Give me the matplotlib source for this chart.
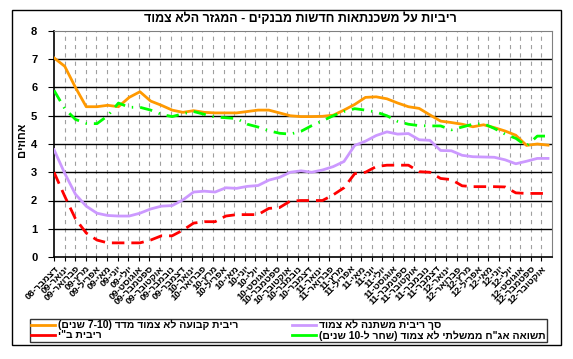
import re
import matplotlib
matplotlib.use("Agg")
import matplotlib.pyplot as plt
from matplotlib.patches import Rectangle
import numpy as np

plt.rcParams['font.family'] = ['Liberation Sans', 'DejaVu Sans']
plt.rcParams['font.weight'] = 'bold'
plt.rcParams['lines.scale_dashes'] = False


def vis(s):
    # matplotlib has no bidi support: put Hebrew into visual order
    r = s[::-1]
    r = re.sub(r'[0-9]+(?:[-.][0-9]+)*', lambda m: m.group(0)[::-1], r)
    return r.translate(str.maketrans('()', ')('))


month_names = ['ינואר', 'פברואר', 'מרץ', 'אפריל', 'מאי', 'יוני', 'יולי',
               'אוגוסט', 'ספטמבר', 'אוקטובר', 'נובמבר', 'דצמבר']
# Dec-08 .. Oct-12
labels = [f"{month_names[(11 + k) % 12]}-{8 + (11 + k) // 12:02d}" for k in range(47)]

fixed_rate = [7.05, 6.75, 6.0, 5.32, 5.32, 5.37, 5.32, 5.65, 5.85, 5.52, 5.37, 5.2,
              5.12, 5.18, 5.12, 5.1, 5.1, 5.1, 5.15, 5.2, 5.2, 5.1, 5.0, 4.97,
              4.97, 4.98, 5.02, 5.2, 5.4, 5.65, 5.67, 5.6, 5.45, 5.32, 5.26, 5.03,
              4.81, 4.76, 4.7, 4.61, 4.68, 4.58, 4.46, 4.31, 3.95, 4.0, 3.96]
variable_rate = [3.8, 2.96, 2.22, 1.8, 1.55, 1.47, 1.45, 1.45, 1.55, 1.7, 1.8, 1.82,
                 2.02, 2.3, 2.33, 2.3, 2.45, 2.43, 2.5, 2.53, 2.72, 2.82, 3.0, 3.05,
                 3.0, 3.08, 3.2, 3.38, 3.95, 4.1, 4.3, 4.43, 4.35, 4.37, 4.15, 4.13,
                 3.77, 3.76, 3.6, 3.55, 3.54, 3.53, 3.44, 3.3, 3.39, 3.49, 3.49]
boi_rate = [3.0, 2.15, 1.35, 0.85, 0.6, 0.5, 0.5, 0.5, 0.5, 0.6, 0.75, 0.75,
            0.95, 1.2, 1.25, 1.25, 1.45, 1.5, 1.5, 1.5, 1.72, 1.75, 1.98, 2.0,
            2.0, 2.0, 2.2, 2.45, 2.95, 3.0, 3.2, 3.25, 3.25, 3.25, 3.02, 3.0,
            2.78, 2.74, 2.52, 2.49, 2.49, 2.49, 2.48, 2.27, 2.25, 2.25, 2.25]
gov_yield = [5.9, 5.25, 4.87, 4.73, 4.72, 5.0, 5.45, 5.3, 5.3, 5.2, 5.05, 4.97,
             5.07, 5.15, 5.05, 4.95, 4.93, 4.9, 4.7, 4.6, 4.47, 4.38, 4.35, 4.45,
             4.65, 4.82, 5.0, 5.15, 5.25, 5.2, 5.13, 5.0, 4.8, 4.7, 4.65, 4.64,
             4.64, 4.5, 4.6, 4.7, 4.72, 4.55, 4.35, 4.2, 3.93, 4.28, 4.28]

title = 'ריביות על משכנתאות חדשות מבנקים - המגזר הלא צמוד'
ylabel = 'אחוזים'
names = ['ריבית קבועה לא צמוד מדד (7-10 שנים)', 'ריבית ב"י',
         'סך ריבית משתנה לא צמוד', 'תשואה אג"ח ממשלתי לא צמוד (שחר ל-10 שנים)']

fig = plt.figure(figsize=(5.73, 3.59), dpi=100)
ax = fig.add_axes([54 / 573, 1 - 257 / 359, 498 / 573, 226 / 359])

x = np.arange(len(fixed_rate))
xmax = 46.37
grid_x = np.linspace(0, xmax, 48)

ax.set_xlim(0, xmax)
ax.set_ylim(0, 8)
for gx in grid_x[1:-1]:
    ax.axvline(gx, color='#a0a0a0', lw=0.8, ls=(0, (3, 3)), zorder=1)
for gy in range(1, 8):
    ax.axhline(gy, color='black', lw=1.0, zorder=1)

l1, = ax.plot(x, fixed_rate, color='#FF9900', lw=2, zorder=3)
l3, = ax.plot(x, variable_rate, color='#CC99FF', lw=2, zorder=3)
l2, = ax.plot(x, boi_rate, color='#FF0000', lw=2, dashes=(9, 5), zorder=3)
l4, = ax.plot(x, gov_yield, color='#00FF00', lw=2, dashes=(9, 5, 1, 5), zorder=3)

ax.set_xticks(grid_x[:47])
ax.set_xticklabels([vis(s) for s in labels], rotation=45, ha='right', va='top',
                   rotation_mode='anchor', fontsize=6.8, fontweight='bold')
ax.set_yticks(range(0, 9))
ax.set_yticklabels([str(v) for v in range(0, 9)], fontsize=8, fontweight='bold')
ax.tick_params(axis='x', length=3, width=0.8, pad=2)
ax.tick_params(axis='y', length=4, width=0.8, pad=8)

for side in ['top', 'right']:
    ax.spines[side].set_color('#808080')
for side in ['left', 'bottom']:
    ax.spines[side].set_color('black')
    ax.spines[side].set_linewidth(1.2)

fig.text(300 / 573, 1 - 19 / 359, vis(title), ha='center', va='center',
         fontsize=9, fontweight='bold')
fig.text(22 / 573, 1 - 140 / 359, vis(ylabel), ha='center', va='center',
         rotation=90, fontsize=8, fontweight='bold')

leg = fig.legend([l1, l2, l3, l4], [vis(n) for n in names], ncol=2,
                 loc='lower left', mode='expand',
                 bbox_to_anchor=(30 / 573, 1 - 342 / 359, 517 / 573, 26 / 359),
                 frameon=True, fancybox=False, edgecolor='black',
                 prop={'size': 7.5, 'weight': 'bold'}, handlelength=2.3,
                 handletextpad=0.3, labelspacing=0.0, borderpad=0.12,
                 columnspacing=1.0, borderaxespad=0)
leg.get_frame().set_linewidth(1.0)
for h in leg.legend_handles:
    h.set_linestyle('-')

fig.patches.append(Rectangle((12 / 573, 1 - 345 / 359), 549 / 573, 335 / 359,
                             transform=fig.transFigure, fill=False,
                             edgecolor='black', lw=1.0))

fig.savefig('out.png', dpi=100)
